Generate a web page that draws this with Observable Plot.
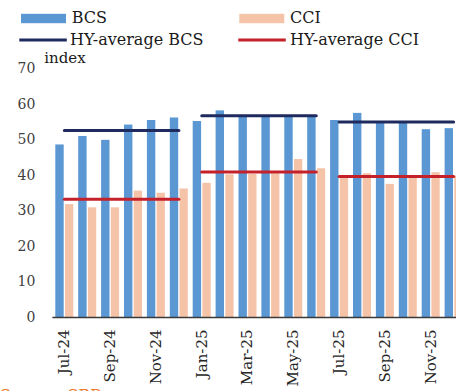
<!DOCTYPE html>
<html>
<head>
<meta charset="utf-8">
<script src="https://cdn.jsdelivr.net/npm/d3@7"></script>
<script src="https://cdn.jsdelivr.net/npm/@observablehq/plot@0.6"></script>
<style>
  html, body { margin: 0; padding: 0; background: #fff; }
  #frame { position: relative; width: 456px; height: 391px; overflow: hidden; background: #fff; }
  #frame > svg { position: absolute; left: 0; top: 0; }
  #overlay { pointer-events: none; }
</style>
</head>
<body>
<div id="frame"></div>
<script>
// Monthly confidence indices
const months = ["Jul-24","Aug-24","Sep-24","Oct-24","Nov-24","Dec-24",
                "Jan-25","Feb-25","Mar-25","Apr-25","May-25","Jun-25",
                "Jul-25","Aug-25","Sep-25","Oct-25","Nov-25","Dec-25"];
const bcs = [48.6, 51.0, 49.9, 54.2, 55.5, 56.2,
             55.2, 58.2, 56.6, 56.6, 56.6, 56.6,
             55.5, 57.5, 54.7, 54.7, 52.9, 53.2];
const cci = [31.8, 30.9, 30.9, 35.6, 35.0, 36.2,
             37.8, 40.2, 40.3, 40.5, 44.5, 41.9,
             39.4, 40.5, 37.5, 39.4, 40.8, 39.8];

// Half-year averages
const halves = ["H2-24", "H1-25", "H2-25"];
const hyBcs = [52.7, 56.8, 55.1];
const hyCci = [33.3, 41.0, 39.7];

const tickMonths = months.filter((d, i) => i % 2 === 0);
const yTicks = [0, 10, 20, 30, 40, 50, 60, 70];

const blue = "#5B97D3", peach = "#F4C3A8", navy = "#1F2B5F", red = "#C4212B";

const rows = months.map((m, i) => ({month: m, bcs: bcs[i], cci: cci[i]}));
const hyRows = months.map((m, i) => {
  const h = Math.floor(i / 6);
  return {month: m, half: halves[h], bcs: hyBcs[h], cci: hyCci[h]};
});

const chart = Plot.plot({
  width: 480,
  height: 410,
  marginLeft: 52.4,
  marginRight: 15.4,
  marginTop: 68.5,
  marginBottom: 93,
  x: {domain: months, padding: 0, round: false},
  y: {domain: [0, 70]},
  style: {fontFamily: "'DejaVu Serif', serif", background: "white", maxWidth: "none", overflow: "visible"},
  marks: [
    Plot.barY(rows, {x: "month", y: "bcs", fill: blue, insetLeft: 2.9, insetRight: 11.6}),
    Plot.barY(rows, {x: "month", y: "cci", fill: peach, insetLeft: 12.6, insetRight: 2.0}),
    Plot.lineY(hyRows, {x: "month", y: "bcs", z: "half", stroke: navy, strokeWidth: 3}),
    Plot.lineY(hyRows, {x: "month", y: "cci", z: "half", stroke: red, strokeWidth: 3}),
    Plot.ruleY([0], {stroke: "#3a3a3a", strokeWidth: 1.6}),
    Plot.axisY(yTicks, {tickSize: 0, tickPadding: 17.5, fontSize: 14, fill: "#404040", label: null}),
    Plot.axisX(tickMonths, {tickSize: 0, tickPadding: 12, tickRotate: -90, fontSize: 15, fill: "#262626", label: null})
  ]
});
document.getElementById("frame").appendChild(chart);

// Legend, unit label and source line drawn on top
const legendItems = [
  {label: "BCS", kind: "swatch", color: blue, x: 21, y: 18.5, tx: 71.7, ty: 23.3},
  {label: "CCI", kind: "swatch", color: peach, x: 239.3, y: 18.5, tx: 290, ty: 23.3},
  {label: "HY-average BCS", kind: "line", color: navy, x: 19.3, y: 40, tx: 70, ty: 45},
  {label: "HY-average CCI", kind: "line", color: red, x: 238.3, y: 40, tx: 290, ty: 45}
];

const overlay = d3.select("#frame").append("svg")
  .attr("id", "overlay")
  .attr("width", 456).attr("height", 391)
  .style("font-family", "'DejaVu Serif', serif");

const g = overlay.selectAll("g.item").data(legendItems).join("g").attr("class", "item");
g.filter(d => d.kind === "swatch").append("rect")
  .attr("x", d => d.x).attr("y", d => d.y - 4.7)
  .attr("width", 45).attr("height", 9.4)
  .attr("fill", d => d.color);
g.filter(d => d.kind === "line").append("line")
  .attr("x1", d => d.x).attr("x2", d => d.x + 47.5)
  .attr("y1", d => d.y).attr("y2", d => d.y)
  .attr("stroke", d => d.color).attr("stroke-width", 3);
g.append("text")
  .attr("x", d => d.tx).attr("y", d => d.ty)
  .attr("font-size", 16).attr("fill", "#1a1a1a")
  .text(d => d.label);

overlay.append("text")
  .attr("x", 44.3).attr("y", 63.3)
  .attr("font-size", 15).attr("fill", "#1a1a1a")
  .text("index");

overlay.append("text")
  .attr("x", 0).attr("y", 400.7)
  .attr("font-size", 16).attr("fill", "#EE7D31")
  .text("Source: SBP");
</script>
</body>
</html>
